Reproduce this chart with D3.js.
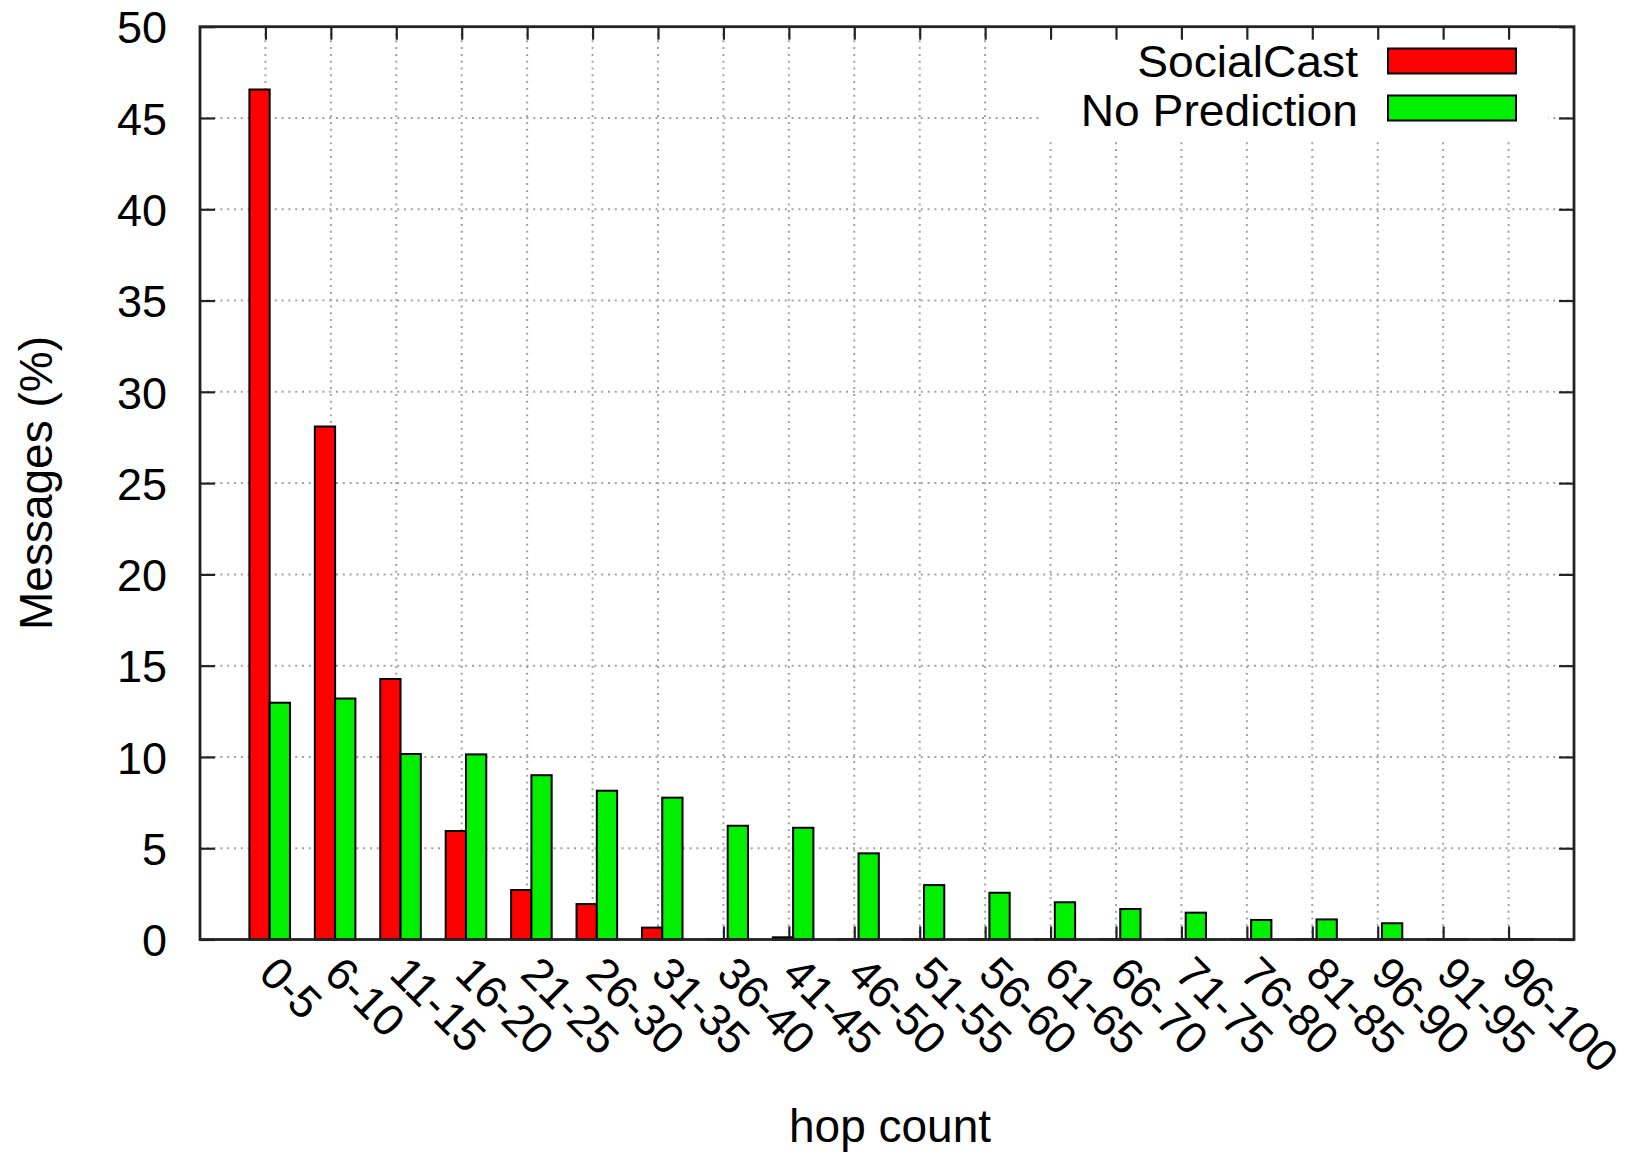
<!DOCTYPE html>
<html>
<head>
<meta charset="utf-8">
<script src="https://cdn.jsdelivr.net/npm/d3@7"></script>
<style>
  html, body { margin: 0; padding: 0; background: #fff; }
  svg { display: block; font-family: "Liberation Sans", Arial, Helvetica, sans-serif; }
</style>
</head>
<body>
<svg id="chart" width="1630" height="1155"></svg>
<script>
const categories = ["0-5","6-10","11-15","16-20","21-25","26-30","31-35","36-40","41-45","46-50","51-55","56-60","61-65","66-70","71-75","76-80","81-85","96-90","91-95","96-100"];
const socialCast = [46.56, 28.1, 14.27, 5.94, 2.71, 1.94, 0.65, 0.02, 0.12, 0.02, 0.02, 0.02, 0.02, 0.02, 0.02, 0.02, 0.02, 0.02, 0.02, 0.02];
const noPrediction = [12.97, 13.2, 10.16, 10.14, 9.0, 8.15, 7.77, 6.23, 6.12, 4.72, 2.98, 2.56, 2.04, 1.67, 1.47, 1.07, 1.1, 0.89, 0.02, 0.02];
const yTicks = [0, 5, 10, 15, 20, 25, 30, 35, 40, 45, 50];
const seriesNames = ["SocialCast", "No Prediction"];
const seriesColors = ["#ff0000", "#00f000"];

(function () {
const svg = d3.select("#chart");
const L = 200, R = 1574, T = 26.7, B = 939.5;
const idx = categories.map((d, i) => i);
const x = d3.scaleLinear().domain([-1, categories.length]).range([L, R]);
const y = d3.scaleLinear().domain([0, 50]).range([B, T]);

// bar geometry in category units
const barW = 0.31;
const offsets = [-0.245, 0.065];

svg.append("rect").attr("width", 1630).attr("height", 1155).attr("fill", "#fff");

// grid
const grid = svg.append("g").attr("stroke", "#a2a2a2").attr("stroke-width", 2).attr("stroke-dasharray", "2,4.8");
grid.selectAll("line.v").data(idx).join("line").attr("class", "v")
  .attr("x1", d => x(d)).attr("x2", d => x(d)).attr("y1", T).attr("y2", B);
grid.selectAll("line.h").data(yTicks.slice(1, -1)).join("line").attr("class", "h")
  .attr("x1", L).attr("x2", R).attr("y1", d => y(d)).attr("y2", d => y(d));

// legend background (opaque key box)
svg.append("rect").attr("x", 1040).attr("y", T + 1).attr("width", 508).attr("height", 113).attr("fill", "#fff");

// bottom ticks (under bars)
const bottomAx = svg.append("g").attr("transform", `translate(0,${B})`)
  .call(d3.axisBottom(x).tickValues(idx).tickSize(-13).tickFormat(""));
bottomAx.select(".domain").remove();
bottomAx.selectAll("line").attr("stroke", "#222").attr("stroke-width", 2.2);

// bars
const series = [socialCast, noPrediction];
series.forEach((vals, s) => {
  svg.append("g").selectAll("rect").data(vals).join("rect")
    .attr("x", (d, i) => x(i + offsets[s]))
    .attr("width", x(barW) - x(0))
    .attr("y", d => y(d))
    .attr("height", d => y(0) - y(d))
    .attr("fill", seriesColors[s])
    .attr("stroke", "#000")
    .attr("stroke-width", 2);
});

// other ticks
const leftAx = svg.append("g").attr("transform", `translate(${L},0)`)
  .call(d3.axisLeft(y).tickValues(yTicks).tickSize(-15).tickPadding(33).tickFormat(d3.format("d")));
leftAx.select(".domain").remove();
leftAx.selectAll("line").attr("stroke", "#222").attr("stroke-width", 2.2);
leftAx.selectAll("text").attr("font-size", 45).attr("fill", "#000")
  .attr("font-family", "'Liberation Sans', Arial, sans-serif").attr("dy", "0.36em");

const rightAx = svg.append("g").attr("transform", `translate(${R},0)`)
  .call(d3.axisRight(y).tickValues(yTicks).tickSize(-15).tickFormat(""));
rightAx.select(".domain").remove();
rightAx.selectAll("line").attr("stroke", "#222").attr("stroke-width", 2.2);

const topAx = svg.append("g").attr("transform", `translate(0,${T})`)
  .call(d3.axisTop(x).tickValues(idx).tickSize(-13).tickFormat(""));
topAx.select(".domain").remove();
topAx.selectAll("line").attr("stroke", "#222").attr("stroke-width", 2.2);

// frame
svg.append("rect").attr("x", L).attr("y", T).attr("width", R - L).attr("height", B - T)
  .attr("fill", "none").attr("stroke", "#222").attr("stroke-width", 2.8);

// x tick labels (rotated)
svg.append("g").selectAll("text").data(idx).join("text")
  .attr("transform", d => `translate(${x(d) - 8.5},976) rotate(45)`)
  .attr("text-anchor", "start")
  .attr("font-size", 45)
  .attr("fill", "#000")
  .text(d => categories[d]);

// axis titles
svg.append("text").attr("x", 890).attr("y", 1142).attr("text-anchor", "middle")
  .attr("font-size", 46).attr("fill", "#000").text("hop count");
svg.append("text").attr("transform", "translate(52,483) rotate(-90)").attr("text-anchor", "middle")
  .attr("font-size", 46).attr("fill", "#000").text("Messages (%)");

// legend
const legY = [76.5, 126];
seriesNames.forEach((name, s) => {
  svg.append("text").attr("transform", `translate(1358,${legY[s]}) scale(1.05,1)`).attr("text-anchor", "end")
    .attr("font-size", 44).attr("fill", "#000").text(name);
  svg.append("rect").attr("x", 1388).attr("y", [48.5, 95.5][s]).attr("width", 128).attr("height", 25)
    .attr("fill", seriesColors[s]).attr("stroke", "#000").attr("stroke-width", 2);
});
})();
</script>
</body>
</html>
